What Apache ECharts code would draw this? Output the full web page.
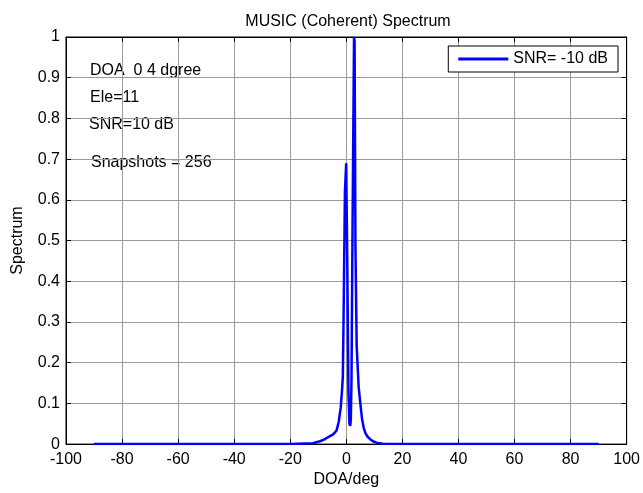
<!DOCTYPE html>
<html>
<head>
<meta charset="utf-8">
<script src="https://cdn.jsdelivr.net/npm/echarts@6/dist/echarts.min.js"></script>
<style>
  html, body { margin: 0; padding: 0; background: #fff; }
  #main { width: 643px; height: 493px; }
</style>
</head>
<body>
<div id="main"></div>
<script>
// DOA axis (deg) and normalized MUSIC spectrum
const doaDeg = [-90, -20, -12, -9.4, -8, -7, -6, -4.7, -3.5, -2.7, -2.0, -1.5, -1.25, -1.0, -0.5, -0.05,
  0.35, 0.75, 1.1, 1.4, 1.6, 1.85, 2.2, 2.75, 2.95, 3.25, 3.7, 4.4, 5.0, 5.6, 6.2, 6.8, 7.6, 8.5, 9.5, 11, 13, 20, 90];
const spectrum = [0, 0.0005, 0.002, 0.007, 0.011, 0.015, 0.019, 0.024, 0.033, 0.055, 0.09, 0.135, 0.165, 0.3, 0.62, 0.69,
  0.44, 0.13, 0.05, 0.045, 0.06, 0.16, 0.52, 1.0, 0.99, 0.49, 0.24, 0.14, 0.1, 0.062, 0.04, 0.027, 0.018, 0.012, 0.007, 0.003, 0.001, 0.0005, 0];

const xTicks = [-100, -80, -60, -40, -20, 0, 20, 40, 60, 80, 100];
const yTicks = [0, 0.1, 0.2, 0.3, 0.4, 0.5, 0.6, 0.7, 0.8, 0.9, 1];

const notes = ['DOA  0 4 dgree', 'Ele=11', 'SNR=10 dB', 'Snapshots = 256'];

const font = 'Liberation Sans, Arial, sans-serif';
const fs = 16;
const chart = echarts.init(document.getElementById('main'));

const points = doaDeg.map((d, i) => [d, spectrum[i]]);

const tick = { inside: true, length: 5, lineStyle: { color: '#000' } };
const grid = { show: true, lineStyle: { color: '#9a9a9a', width: 1 } };
const label = { fontFamily: font, fontSize: fs, color: '#000', margin: 7 };

const option = {
  backgroundColor: '#fff',
  animation: false,
  title: {
    text: 'MUSIC (Coherent) Spectrum',
    left: 343, top: 9, textAlign: 'center',
    textStyle: { fontFamily: font, fontSize: fs, fontWeight: 'normal', color: '#000' }
  },
  grid: {
    left: 66, right: 16, top: 37, bottom: 45,
    show: true, borderColor: '#000', borderWidth: 1, backgroundColor: '#fff'
  },
  legend: {
    data: ['SNR= -10 dB'],
    right: 25, top: 46,
    backgroundColor: '#fff',
    borderColor: '#000', borderWidth: 1,
    padding: [5, 10, 5, 10],
    itemWidth: 50, itemHeight: 3, itemGap: 5,
    icon: 'rect',
    textStyle: { fontFamily: font, fontSize: fs, color: '#000' }
  },
  xAxis: [{
    type: 'value',
    min: xTicks[0], max: xTicks[xTicks.length - 1], interval: 20,
    name: 'DOA/deg', nameLocation: 'middle', nameGap: 25,
    nameTextStyle: { fontFamily: font, fontSize: fs, color: '#000' },
    axisLine: { onZero: false, lineStyle: { color: '#000', width: 1 } },
    axisTick: tick,
    axisLabel: label,
    splitLine: grid
  }, {
    type: 'value', position: 'top',
    min: xTicks[0], max: xTicks[xTicks.length - 1], interval: 20,
    axisLine: { onZero: false, lineStyle: { color: '#000' } },
    axisTick: tick, axisLabel: { show: false }, splitLine: { show: false }
  }],
  yAxis: [{
    type: 'value',
    min: yTicks[0], max: yTicks[yTicks.length - 1], interval: 0.1,
    name: 'Spectrum', nameLocation: 'middle', nameGap: 40,
    nameTextStyle: { fontFamily: font, fontSize: fs, color: '#000' },
    axisLine: { onZero: false, lineStyle: { color: '#000', width: 1 } },
    axisTick: tick,
    axisLabel: Object.assign({}, label, { margin: 6 }),
    splitLine: grid
  }, {
    type: 'value', position: 'right',
    min: yTicks[0], max: yTicks[yTicks.length - 1], interval: 0.1,
    axisLine: { onZero: false, lineStyle: { color: '#000' } },
    axisTick: tick, axisLabel: { show: false }, splitLine: { show: false }
  }],
  graphic: notes.map((t, i) => ({
    type: 'text',
    left: [90, 90, 89, 91][i],
    top: [63, 90, 117, 155][i],
    style: { text: t, fontFamily: font, fontSize: fs, fill: '#000' }
  })),
  series: [{
    name: 'SNR= -10 dB',
    type: 'line',
    data: points,
    showSymbol: false,
    smooth: false,
    color: '#0000ff',
    lineStyle: { color: '#0000ff', width: 2.5 }
  }]
};

chart.setOption(option);
</script>
</body>
</html>
